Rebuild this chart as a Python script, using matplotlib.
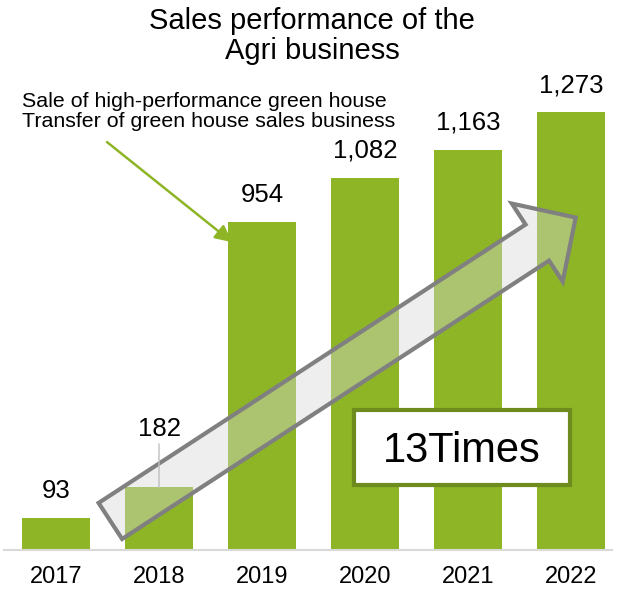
import numpy as np
import matplotlib.pyplot as plt
from matplotlib.patches import FancyArrowPatch, Rectangle, ArrowStyle

years = ['2017', '2018', '2019', '2020', '2021', '2022']
sales = [93, 182, 954, 1082, 1163, 1273]
sales_txt = ['93', '182', '954', '1,082', '1,163', '1,273']

green = '#8DB526'
plt.rcParams['font.family'] = ['Liberation Sans', 'DejaVu Sans']

fig = plt.figure(figsize=(6.17, 5.93), dpi=100)
ax = fig.add_axes([4 / 617, 43 / 593, 608 / 617, 550 / 593])
x = np.arange(len(years))
ax.bar(x, sales, width=0.66, color=green, zorder=2)
ax.set_xlim(-0.505, 5.398)
ax.set_ylim(0, 1599)

for s in ['top', 'left', 'right']:
    ax.spines[s].set_visible(False)
ax.spines['bottom'].set_color('#D9D9D9')
ax.spines['bottom'].set_linewidth(1.5)
ax.set_yticks([])
ax.set_xticks(x, years, fontsize=17)
ax.tick_params(axis='x', length=0, pad=11.5)

# value labels, 2018 one sits higher with a leader line
for i, (v, t) in enumerate(zip(sales, sales_txt)):
    if i == 1:
        ax.annotate(t, (i, v), xytext=(0, 42), textcoords='offset points',
                    ha='center', va='center', fontsize=18.5, zorder=5,
                    arrowprops=dict(arrowstyle='-', color='#BFBFBF', lw=1,
                                    shrinkA=0, shrinkB=0))
    else:
        ax.annotate(t, (i, v), xytext=(0, 19.5), textcoords='offset points',
                    ha='center', va='center', fontsize=18.5, zorder=5)

fig.text(312 / 617, 1 - 36 / 593, 'Sales performance of the\nAgri business',
         ha='center', va='center', fontsize=21, linespacing=1.13)

ax.text(-0.33, 1275, 'Sale of high-performance green house\nTransfer of green house sales business',
        ha='left', va='center', fontsize=15.4, linespacing=1.1)
ax.annotate('', xy=(1.709, 895), xytext=(0.495, 1186),
            arrowprops=dict(arrowstyle='-|>,head_length=1.0,head_width=0.5',
                            color=green, lw=1.8, shrinkA=0, shrinkB=0))

# big growth arrow
big = FancyArrowPatch((0.505, 80), (5.068, 971),
                      arrowstyle=ArrowStyle('Simple', head_length=33, head_width=67, tail_width=31),
                      mutation_scale=1, fc=(0.847, 0.847, 0.847, 0.42), ec='#808080',
                      lw=3, joinstyle='miter', zorder=4)
ax.add_patch(big)

ax.add_patch(Rectangle((2.893, 189), 2.097, 218, fc='white', ec='#6E8B1E', lw=3, zorder=5))
ax.text(3.94, 256, '13Times', ha='center', va='baseline', fontsize=30, zorder=6)

fig.savefig('out.png', dpi=100)
